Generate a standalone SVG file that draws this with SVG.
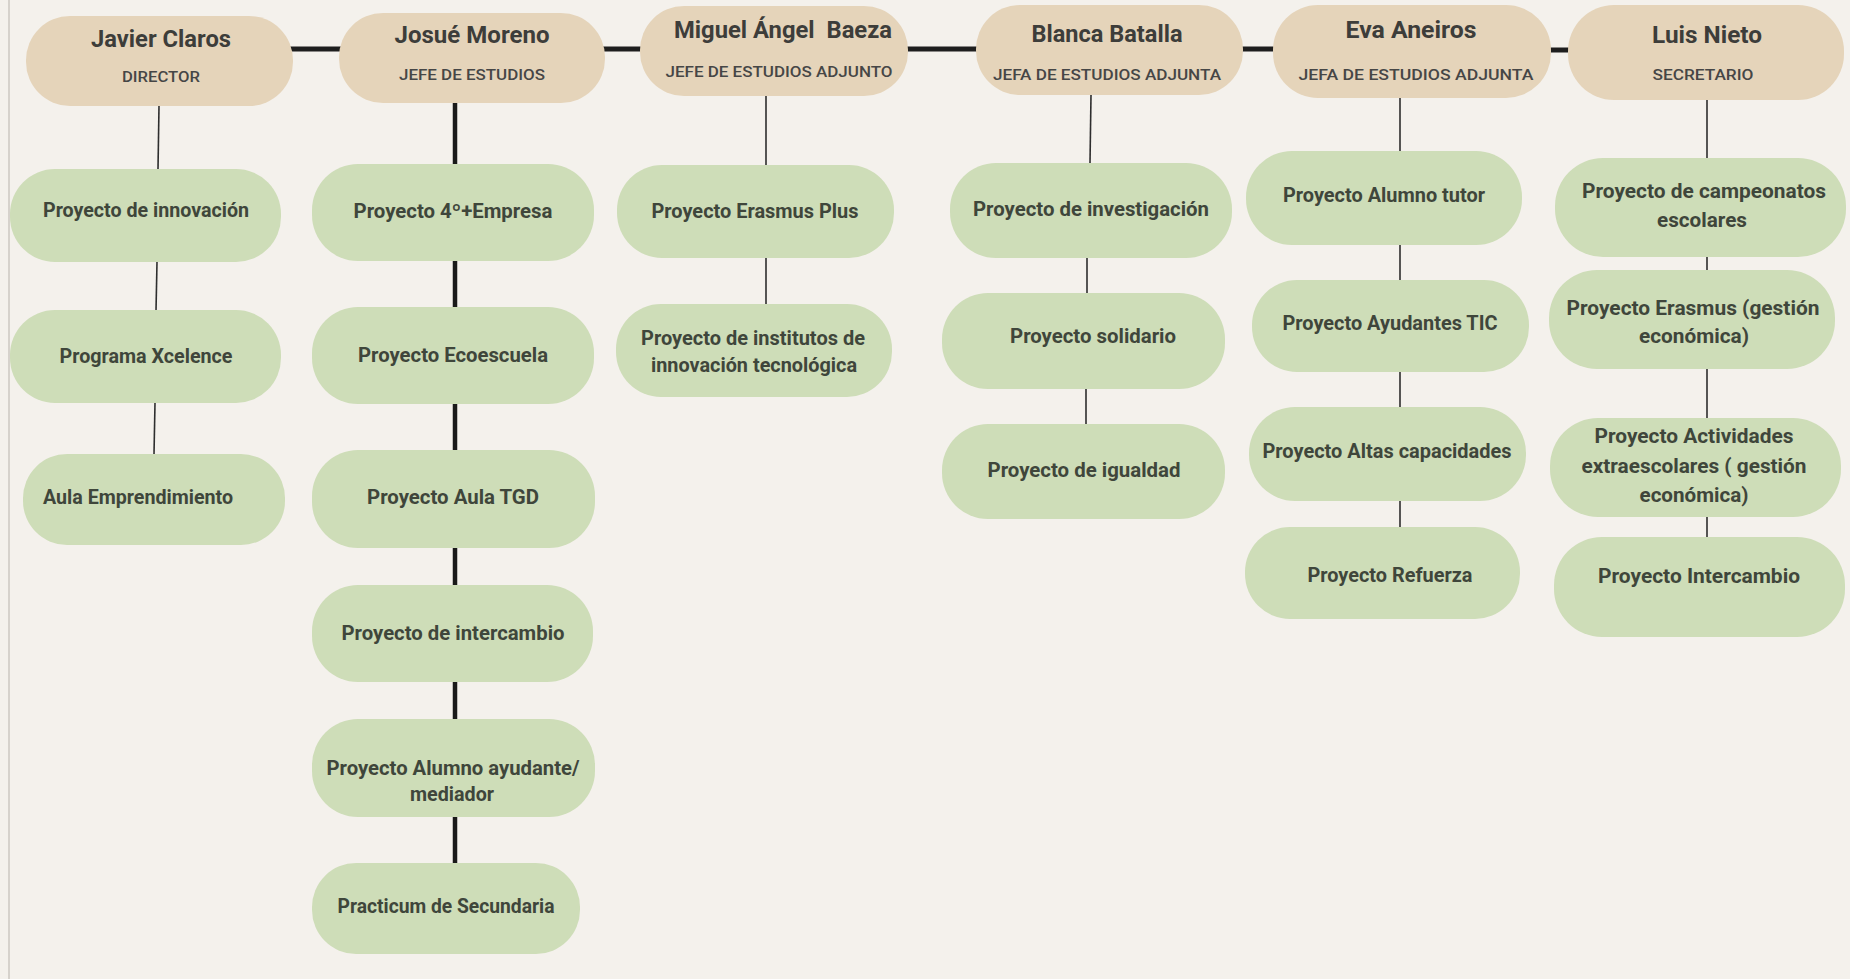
<svg xmlns="http://www.w3.org/2000/svg" width="1850" height="979" viewBox="0 0 1850 979">
<style>
.bg{fill:#F4F1EC}
.hd{fill:#E5D4BA}
.ch{fill:#CEDDB8}
.t{font-family:Roboto,"Liberation Sans",sans-serif;font-weight:700;fill:#3d3d3a;text-anchor:middle}
.tt{font-size:23px}
.st{font-size:14px;font-weight:500;fill:#464646}
.ct{font-size:20px;fill:#3f463b}
.hl{stroke:#1e1e1e;stroke-width:5;fill:none}
.thin{stroke:#2e2e2e;stroke-width:1.6;fill:none}
.thick{stroke:#1a1a1a;stroke-width:4.5;fill:none}
</style>
<rect class="bg" x="0" y="0" width="1850" height="979"/>
<line x1="9" y1="0" x2="9" y2="979" stroke="#d6d2cc" stroke-width="2"/>
<g id="connectors">
<line class="hl" x1="290" y1="49" x2="342" y2="49"/>
<line class="hl" x1="602" y1="49" x2="643" y2="49"/>
<line class="hl" x1="905" y1="49" x2="979" y2="49"/>
<line class="hl" x1="1240" y1="49" x2="1276" y2="49"/>
<line class="hl" x1="1548" y1="50" x2="1571" y2="50"/>
<line class="thin" x1="159" y1="106" x2="158" y2="169"/>
<line class="thin" x1="157" y1="262" x2="156" y2="311"/>
<line class="thin" x1="155" y1="403" x2="154" y2="454"/>
<line class="thick" x1="455" y1="103" x2="455" y2="164"/>
<line class="thick" x1="455" y1="261" x2="455" y2="307"/>
<line class="thick" x1="455" y1="404" x2="455" y2="450"/>
<line class="thick" x1="455" y1="548" x2="455" y2="585"/>
<line class="thick" x1="455" y1="682" x2="455" y2="719"/>
<line class="thick" x1="455" y1="817" x2="455" y2="863"/>
<line class="thin" x1="766" y1="96" x2="766" y2="165"/>
<line class="thin" x1="766" y1="258" x2="766" y2="304"/>
<line class="thin" x1="1091" y1="95" x2="1090" y2="163"/>
<line class="thin" x1="1087" y1="258" x2="1087" y2="293"/>
<line class="thin" x1="1086" y1="389" x2="1086" y2="424"/>
<line class="thin" x1="1400" y1="98" x2="1400" y2="151"/>
<line class="thin" x1="1400" y1="245" x2="1400" y2="280"/>
<line class="thin" x1="1400" y1="372" x2="1400" y2="407"/>
<line class="thin" x1="1400" y1="501" x2="1400" y2="527"/>
<line class="thin" x1="1707" y1="100" x2="1707" y2="158"/>
<line class="thin" x1="1707" y1="257" x2="1707" y2="270"/>
<line class="thin" x1="1707" y1="369" x2="1707" y2="418"/>
<line class="thin" x1="1707" y1="517" x2="1707" y2="537"/>
</g>
<g id="javier"><rect class="hd" x="26" y="16" width="267" height="90" rx="44"/>
<text class="t tt" x="161" y="47" textLength="140" lengthAdjust="spacingAndGlyphs">Javier Claros</text>
<text class="t st" x="161" y="82" textLength="78" lengthAdjust="spacingAndGlyphs">DIRECTOR</text></g>
<g id="josue"><rect class="hd" x="339" y="13" width="266" height="90" rx="44"/>
<text class="t tt" x="472" y="43" textLength="155" lengthAdjust="spacingAndGlyphs">Josué Moreno</text>
<text class="t st" x="472" y="80" textLength="146" lengthAdjust="spacingAndGlyphs">JEFE DE ESTUDIOS</text></g>
<g id="miguel"><rect class="hd" x="640" y="6" width="268" height="90" rx="44"/>
<text class="t tt" x="783" y="38" textLength="218" lengthAdjust="spacingAndGlyphs" xml:space="preserve">Miguel Ángel  Baeza</text>
<text class="t st" x="779" y="77" textLength="227" lengthAdjust="spacingAndGlyphs">JEFE DE ESTUDIOS ADJUNTO</text></g>
<g id="blanca"><rect class="hd" x="976" y="5" width="267" height="90" rx="44"/>
<text class="t tt" x="1107" y="42" textLength="151" lengthAdjust="spacingAndGlyphs">Blanca Batalla</text>
<text class="t st" x="1107" y="80" textLength="228" lengthAdjust="spacingAndGlyphs">JEFA DE ESTUDIOS ADJUNTA</text></g>
<g id="eva"><rect class="hd" x="1273" y="5" width="278" height="93" rx="45"/>
<text class="t tt" x="1411" y="38" textLength="131" lengthAdjust="spacingAndGlyphs">Eva Aneiros</text>
<text class="t st" x="1416" y="80" textLength="235" lengthAdjust="spacingAndGlyphs">JEFA DE ESTUDIOS ADJUNTA</text></g>
<g id="luis"><rect class="hd" x="1568" y="5" width="276" height="95" rx="46"/>
<text class="t tt" x="1707" y="43" textLength="110" lengthAdjust="spacingAndGlyphs">Luis Nieto</text>
<text class="t st" x="1703" y="80" textLength="101" lengthAdjust="spacingAndGlyphs">SECRETARIO</text></g>
<g id="p-innovacion"><rect class="ch" x="10" y="169" width="271" height="93" rx="45"/>
<text class="t ct" x="146" y="217" textLength="206" lengthAdjust="spacingAndGlyphs">Proyecto de innovación</text></g>
<g id="p-xcelence"><rect class="ch" x="10" y="310" width="271" height="93" rx="45"/>
<text class="t ct" x="146" y="363" textLength="173" lengthAdjust="spacingAndGlyphs">Programa Xcelence</text></g>
<g id="p-aula-emprendimiento"><rect class="ch" x="23" y="454" width="262" height="91" rx="44"/>
<text class="t ct" x="138" y="504" textLength="190" lengthAdjust="spacingAndGlyphs">Aula Emprendimiento</text></g>
<g id="p-4empresa"><rect class="ch" x="312" y="164" width="282" height="97" rx="46"/>
<text class="t ct" x="453" y="218" textLength="199" lengthAdjust="spacingAndGlyphs">Proyecto 4º+Empresa</text></g>
<g id="p-ecoescuela"><rect class="ch" x="312" y="307" width="282" height="97" rx="46"/>
<text class="t ct" x="453" y="362" textLength="190" lengthAdjust="spacingAndGlyphs">Proyecto Ecoescuela</text></g>
<g id="p-aula-tgd"><rect class="ch" x="312" y="450" width="283" height="98" rx="46"/>
<text class="t ct" x="453" y="504" textLength="172" lengthAdjust="spacingAndGlyphs">Proyecto Aula TGD</text></g>
<g id="p-intercambio-js"><rect class="ch" x="312" y="585" width="281" height="97" rx="46"/>
<text class="t ct" x="453" y="640" textLength="223" lengthAdjust="spacingAndGlyphs">Proyecto de intercambio</text></g>
<g id="p-alumno-ayudante"><rect class="ch" x="312" y="719" width="283" height="98" rx="46"/>
<text class="t ct" x="453" y="775" textLength="253" lengthAdjust="spacingAndGlyphs">Proyecto Alumno ayudante/</text>
<text class="t ct" x="452" y="801" textLength="84" lengthAdjust="spacingAndGlyphs">mediador</text></g>
<g id="p-practicum"><rect class="ch" x="312" y="863" width="268" height="91" rx="44"/>
<text class="t ct" x="446" y="913" textLength="217" lengthAdjust="spacingAndGlyphs">Practicum de Secundaria</text></g>
<g id="p-erasmus-plus"><rect class="ch" x="617" y="165" width="277" height="93" rx="45"/>
<text class="t ct" x="755" y="218" textLength="207" lengthAdjust="spacingAndGlyphs">Proyecto Erasmus Plus</text></g>
<g id="p-institutos"><rect class="ch" x="616" y="304" width="276" height="93" rx="45"/>
<text class="t ct" x="753" y="345" textLength="224" lengthAdjust="spacingAndGlyphs">Proyecto de institutos de</text>
<text class="t ct" x="754" y="372" textLength="206" lengthAdjust="spacingAndGlyphs">innovación tecnológica</text></g>
<g id="p-investigacion"><rect class="ch" x="950" y="163" width="282" height="95" rx="46"/>
<text class="t ct" x="1091" y="216" textLength="236" lengthAdjust="spacingAndGlyphs">Proyecto de investigación</text></g>
<g id="p-solidario"><rect class="ch" x="942" y="293" width="283" height="96" rx="46"/>
<text class="t ct" x="1093" y="343" textLength="166" lengthAdjust="spacingAndGlyphs">Proyecto solidario</text></g>
<g id="p-igualdad"><rect class="ch" x="942" y="424" width="283" height="95" rx="46"/>
<text class="t ct" x="1084" y="477" textLength="193" lengthAdjust="spacingAndGlyphs">Proyecto de igualdad</text></g>
<g id="p-alumno-tutor"><rect class="ch" x="1246" y="151" width="276" height="94" rx="46"/>
<text class="t ct" x="1384" y="202" textLength="202" lengthAdjust="spacingAndGlyphs">Proyecto Alumno tutor</text></g>
<g id="p-ayudantes-tic"><rect class="ch" x="1252" y="280" width="277" height="92" rx="45"/>
<text class="t ct" x="1390" y="330" textLength="215" lengthAdjust="spacingAndGlyphs">Proyecto Ayudantes TIC</text></g>
<g id="p-altas-capacidades"><rect class="ch" x="1249" y="407" width="277" height="94" rx="46"/>
<text class="t ct" x="1387" y="458" textLength="249" lengthAdjust="spacingAndGlyphs">Proyecto Altas capacidades</text></g>
<g id="p-refuerza"><rect class="ch" x="1245" y="527" width="275" height="92" rx="45"/>
<text class="t ct" x="1390" y="582" textLength="165" lengthAdjust="spacingAndGlyphs">Proyecto Refuerza</text></g>
<g id="p-campeonatos"><rect class="ch" x="1555" y="158" width="291" height="99" rx="48"/>
<text class="t ct" x="1704" y="198" textLength="244" lengthAdjust="spacingAndGlyphs">Proyecto de campeonatos</text>
<text class="t ct" x="1702" y="227" textLength="90" lengthAdjust="spacingAndGlyphs">escolares</text></g>
<g id="p-erasmus-gestion"><rect class="ch" x="1549" y="270" width="286" height="99" rx="48"/>
<text class="t ct" x="1693" y="315" textLength="253" lengthAdjust="spacingAndGlyphs">Proyecto Erasmus (gestión</text>
<text class="t ct" x="1694" y="343" textLength="110" lengthAdjust="spacingAndGlyphs">económica)</text></g>
<g id="p-actividades"><rect class="ch" x="1550" y="418" width="291" height="99" rx="48"/>
<text class="t ct" x="1694" y="443" textLength="199" lengthAdjust="spacingAndGlyphs">Proyecto Actividades</text>
<text class="t ct" x="1694" y="473" textLength="225" lengthAdjust="spacingAndGlyphs">extraescolares ( gestión</text>
<text class="t ct" x="1694" y="502" textLength="109" lengthAdjust="spacingAndGlyphs">económica)</text></g>
<g id="p-intercambio-ln"><rect class="ch" x="1554" y="537" width="291" height="100" rx="48"/>
<text class="t ct" x="1699" y="583" textLength="202" lengthAdjust="spacingAndGlyphs">Proyecto Intercambio</text></g>
</svg>
